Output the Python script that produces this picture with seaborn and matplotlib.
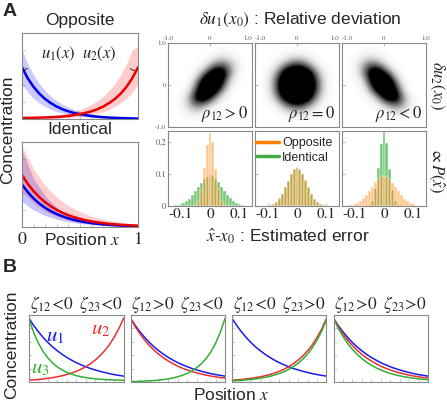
import numpy as np
import matplotlib
matplotlib.use('Agg')
import matplotlib.pyplot as plt
import seaborn as sns

sns.set_style('white')
plt.rcParams['font.family'] = ['Liberation Sans', 'DejaVu Sans']
plt.rcParams['mathtext.fontset'] = 'stix'

# ---------------- data ----------------
x21 = [0.0, 0.05, 0.1, 0.15, 0.2, 0.25, 0.3, 0.35, 0.4, 0.45, 0.5,
       0.55, 0.6, 0.65, 0.7, 0.75, 0.8, 0.85, 0.9, 0.95, 1.0]
x11 = [0.0, 0.1, 0.2, 0.3, 0.4, 0.5, 0.6, 0.7, 0.8, 0.9, 1.0]

# A, "Opposite"
opp_u1 = [0.60, 0.473, 0.373, 0.294, 0.232, 0.183, 0.144, 0.113, 0.089, 0.070, 0.056,
          0.044, 0.034, 0.027, 0.021, 0.017, 0.013, 0.011, 0.008, 0.007, 0.005]
opp_u2 = [0.012, 0.013, 0.014, 0.016, 0.018, 0.021, 0.024, 0.029, 0.036, 0.046, 0.058,
          0.072, 0.090, 0.114, 0.145, 0.184, 0.232, 0.294, 0.373, 0.473, 0.60]
opp_u1_hi = [0.80, 0.640, 0.512, 0.410, 0.329, 0.264, 0.212, 0.170, 0.137, 0.110, 0.089,
             0.071, 0.057, 0.046, 0.037, 0.030, 0.024, 0.019, 0.016, 0.013, 0.010]
opp_u1_lo = [0.40, 0.310, 0.240, 0.186, 0.144, 0.111, 0.086, 0.066, 0.051, 0.039, 0.030,
             0.023, 0.018, 0.014, 0.011, 0.008, 0.006, 0.005, 0.004, 0.003, 0.002]
opp_u2_hi = [0.015, 0.018, 0.021, 0.024, 0.030, 0.037, 0.046, 0.057, 0.071, 0.089, 0.110,
             0.137, 0.170, 0.212, 0.264, 0.329, 0.410, 0.512, 0.640, 0.800, 0.85]
opp_u2_lo = [0.002, 0.003, 0.004, 0.005, 0.006, 0.008, 0.011, 0.014, 0.018, 0.023, 0.030,
             0.039, 0.051, 0.066, 0.086, 0.111, 0.144, 0.186, 0.240, 0.310, 0.40]

# A, "Identical"
idt_u1 = [0.50, 0.410, 0.335, 0.275, 0.225, 0.184, 0.151, 0.124, 0.101, 0.083, 0.068,
          0.056, 0.046, 0.037, 0.031, 0.025, 0.021, 0.017, 0.014, 0.011, 0.009]
idt_u2 = [0.61, 0.507, 0.421, 0.350, 0.291, 0.242, 0.201, 0.167, 0.138, 0.115, 0.096,
          0.079, 0.066, 0.055, 0.046, 0.038, 0.032, 0.026, 0.022, 0.018, 0.015]
idt_u1_hi = [0.90, 0.571, 0.363, 0.230, 0.146, 0.093, 0.059, 0.037, 0.024, 0.015, 0.010]
idt_u1_lo = [0.30, 0.201, 0.135, 0.090, 0.061, 0.041, 0.027, 0.018, 0.012, 0.008, 0.005]
idt_u2_hi = [0.95, 0.681, 0.487, 0.350, 0.251, 0.180, 0.128, 0.092, 0.066, 0.048, 0.034]
idt_u2_lo = [0.42, 0.277, 0.183, 0.120, 0.079, 0.052, 0.034, 0.023, 0.015, 0.010, 0.007]

# scatter clouds: density of points on a 10x10 grid (rows: du2 from -0.9 to 0.9)
cloud_pos = [
    [0, 0, 0, 0, 0, 0, 0, 0, 0, 0],
    [0, 0, 0.05, 0.08, 0, 0, 0, 0, 0, 0],
    [0, 0.03, 0.2, 0.35, 0.2, 0.05, 0, 0, 0, 0],
    [0, 0, 0.25, 0.75, 0.8, 0.35, 0.05, 0, 0, 0],
    [0, 0, 0.05, 0.55, 1.0, 0.9, 0.35, 0.03, 0, 0],
    [0, 0, 0, 0.3, 0.9, 1.0, 0.65, 0.1, 0, 0],
    [0, 0, 0, 0.05, 0.4, 0.8, 0.8, 0.3, 0.03, 0],
    [0, 0, 0, 0, 0.05, 0.3, 0.4, 0.25, 0.05, 0],
    [0, 0, 0, 0, 0, 0.03, 0.1, 0.05, 0, 0],
    [0, 0, 0, 0, 0, 0, 0, 0, 0, 0],
]
cloud_zero = [
    [0, 0, 0, 0, 0, 0, 0, 0, 0, 0],
    [0, 0, 0, 0.03, 0.08, 0.08, 0.03, 0, 0, 0],
    [0, 0, 0.05, 0.25, 0.45, 0.45, 0.25, 0.05, 0, 0],
    [0, 0.02, 0.25, 0.7, 0.95, 0.95, 0.7, 0.25, 0.02, 0],
    [0, 0.05, 0.4, 0.9, 1.0, 1.0, 0.9, 0.4, 0.05, 0],
    [0, 0.05, 0.4, 0.9, 1.0, 1.0, 0.9, 0.4, 0.05, 0],
    [0, 0.02, 0.25, 0.7, 0.95, 0.95, 0.7, 0.25, 0.02, 0],
    [0, 0, 0.05, 0.25, 0.45, 0.45, 0.25, 0.05, 0, 0],
    [0, 0, 0, 0.03, 0.08, 0.08, 0.03, 0, 0, 0],
    [0, 0, 0, 0, 0, 0, 0, 0, 0, 0],
]
cloud_neg = [
    [0, 0, 0, 0, 0, 0, 0, 0, 0, 0],
    [0, 0, 0, 0, 0, 0, 0.08, 0.05, 0, 0],
    [0, 0, 0, 0, 0.05, 0.2, 0.35, 0.2, 0.03, 0],
    [0, 0, 0, 0.05, 0.35, 0.8, 0.75, 0.25, 0, 0],
    [0, 0, 0.03, 0.35, 0.9, 1.0, 0.55, 0.05, 0, 0],
    [0, 0, 0.1, 0.65, 1.0, 0.9, 0.3, 0, 0, 0],
    [0, 0.03, 0.3, 0.8, 0.8, 0.4, 0.05, 0, 0, 0],
    [0, 0.05, 0.25, 0.4, 0.3, 0.05, 0, 0, 0, 0],
    [0, 0, 0.05, 0.1, 0.03, 0, 0, 0, 0, 0],
    [0, 0, 0, 0, 0, 0, 0, 0, 0, 0],
]

# histograms of the estimation error, bin centres -0.12 ... 0.12
err_bins = [-0.12, -0.11, -0.10, -0.09, -0.08, -0.07, -0.06, -0.05, -0.04, -0.03, -0.02, -0.01, 0.0,
            0.01, 0.02, 0.03, 0.04, 0.05, 0.06, 0.07, 0.08, 0.09, 0.10, 0.11, 0.12]
h1_opp = [0, 0, 0, 0, 0, 0, 0.001, 0.004, 0.017, 0.050, 0.120, 0.190, 0.228,
          0.200, 0.115, 0.052, 0.015, 0.004, 0.001, 0, 0, 0, 0, 0, 0]
h1_idt = [0.002, 0.003, 0.006, 0.010, 0.016, 0.023, 0.035, 0.046, 0.061, 0.073, 0.086, 0.091, 0.096,
          0.093, 0.084, 0.075, 0.059, 0.048, 0.033, 0.025, 0.015, 0.009, 0.006, 0.003, 0.001]
h2_opp = [0, 0, 0.001, 0.003, 0.006, 0.013, 0.023, 0.038, 0.058, 0.079, 0.100, 0.115, 0.121,
          0.114, 0.099, 0.080, 0.057, 0.039, 0.022, 0.012, 0.006, 0.003, 0.001, 0, 0]
h2_idt = [0, 0, 0.001, 0.003, 0.007, 0.012, 0.024, 0.037, 0.059, 0.078, 0.101, 0.116, 0.119,
          0.115, 0.100, 0.078, 0.058, 0.037, 0.023, 0.013, 0.006, 0.002, 0.001, 0, 0]
h3_opp = [0.002, 0.003, 0.005, 0.010, 0.015, 0.024, 0.034, 0.047, 0.060, 0.074, 0.085, 0.093, 0.095,
          0.091, 0.085, 0.073, 0.060, 0.046, 0.034, 0.023, 0.016, 0.010, 0.005, 0.003, 0.001]
h3_idt = [0, 0, 0, 0, 0, 0, 0.001, 0.003, 0.016, 0.052, 0.118, 0.193, 0.232,
          0.196, 0.117, 0.049, 0.016, 0.004, 0.001, 0, 0, 0, 0, 0, 0]

# B, three morphogens
b_decay = [0.95, 0.844, 0.749, 0.665, 0.590, 0.523, 0.466, 0.413, 0.367, 0.326, 0.289,
           0.257, 0.228, 0.202, 0.180, 0.160, 0.142, 0.125, 0.111, 0.099, 0.088]
b_decay_mid = [0.95, 0.827, 0.719, 0.626, 0.545, 0.474, 0.413, 0.359, 0.313, 0.273, 0.237,
               0.206, 0.180, 0.156, 0.136, 0.119, 0.103, 0.089, 0.078, 0.067, 0.059]
b_decay_low = [0.95, 0.804, 0.681, 0.577, 0.487, 0.413, 0.350, 0.295, 0.251, 0.212, 0.180,
               0.152, 0.128, 0.109, 0.092, 0.078, 0.066, 0.056, 0.048, 0.040, 0.034]
b_decay_fast = [0.94, 0.737, 0.578, 0.454, 0.359, 0.284, 0.225, 0.180, 0.144, 0.117, 0.095,
                0.079, 0.066, 0.056, 0.048, 0.042, 0.037, 0.033, 0.030, 0.028, 0.026]
b_rise = [0.027, 0.032, 0.038, 0.046, 0.054, 0.066, 0.078, 0.093, 0.111, 0.133, 0.160,
          0.190, 0.228, 0.273, 0.326, 0.390, 0.466, 0.556, 0.665, 0.794, 0.95]
b_rise_low = [0.017, 0.020, 0.025, 0.031, 0.038, 0.047, 0.057, 0.069, 0.085, 0.103, 0.126,
              0.153, 0.188, 0.230, 0.280, 0.342, 0.418, 0.511, 0.623, 0.762, 0.93]
b_rise_steep = [0.006, 0.008, 0.010, 0.013, 0.017, 0.022, 0.029, 0.037, 0.047, 0.061, 0.078,
                0.100, 0.128, 0.165, 0.212, 0.272, 0.350, 0.449, 0.577, 0.740, 0.95]
b_titles = [r'$\zeta_{12}\!<\!0\;\;\zeta_{23}\!<\!0$', r'$\zeta_{12}\!>\!0\;\;\zeta_{23}\!<\!0$',
            r'$\zeta_{12}\!<\!0\;\;\zeta_{23}\!>\!0$', r'$\zeta_{12}\!>\!0\;\;\zeta_{23}\!>\!0$']
b_u1 = [b_decay, b_decay, b_decay, b_decay]
b_u2 = [b_rise, b_decay_mid, b_rise, b_decay_mid]
b_u3 = [b_decay_fast, b_rise_steep, b_rise_low, b_decay_low]

rho_labels = [r'$\rho_{12}>0$', r'$\rho_{12}=0$', r'$\rho_{12}<0$']

# ---------------- figure ----------------
W, H = 447, 405
fig = plt.figure(figsize=(W / 100, H / 100), dpi=100)
BLUE, RED = '#0000e6', '#e60000'
ORANGE, LGREEN = '#ff8c1a', '#2fa82f'
SPINE = '#888888'


def add_ax(x0, y0, x1, y1):
    return fig.add_axes([x0 / W, 1 - y1 / H, (x1 - x0) / W, (y1 - y0) / H])


def gray_box(ax):
    for s in ax.spines.values():
        s.set_color(SPINE)
        s.set_linewidth(0.8)


def small_ticks(ax):
    ax.set_xticks(x11)
    ax.set_yticks([0, 0.2, 0.4, 0.6, 0.8, 1.0])
    ax.tick_params(direction='in', length=2, color='#bbbbbb', width=0.6,
                   labelbottom=False, labelleft=False, bottom=True, left=True)


# ----- A: concentration profiles -----
axo = add_ax(22, 33, 138, 119)
axo.fill_between(x21, opp_u1_lo, opp_u1_hi, color='#4040ff', alpha=0.27, lw=0)
axo.fill_between(x21, opp_u2_lo, opp_u2_hi, color='#ff4040', alpha=0.27, lw=0)
sns.lineplot(x=x21, y=opp_u1, ax=axo, color=BLUE, lw=1.8)
sns.lineplot(x=x21, y=opp_u2, ax=axo, color=RED, lw=1.8)
axo.set_xlim(0, 1)
axo.set_ylim(0, 1)
gray_box(axo)
small_ticks(axo)
axo.annotate(r'$u_1(x)$', xy=(0.02, 0.57), xytext=(0.31, 0.76), textcoords='axes fraction',
             xycoords='axes fraction', ha='center', va='center', fontsize=12,
             arrowprops=dict(arrowstyle='-', color='#222222', lw=0.7, shrinkA=8, shrinkB=0))
axo.annotate(r'$u_2(x)$', xy=(0.97, 0.56), xytext=(0.67, 0.76), textcoords='axes fraction',
             xycoords='axes fraction', ha='center', va='center', fontsize=12,
             arrowprops=dict(arrowstyle='-', color='#222222', lw=0.7, shrinkA=8, shrinkB=0))

axi = add_ax(22, 142, 138, 227)
axi.fill_between(x11, idt_u1_lo, idt_u1_hi, color='#4040ff', alpha=0.3, lw=0)
axi.fill_between(x11, idt_u2_lo, idt_u2_hi, color='#ff4040', alpha=0.25, lw=0)
sns.lineplot(x=x21, y=idt_u1, ax=axi, color=BLUE, lw=1.8)
sns.lineplot(x=x21, y=idt_u2, ax=axi, color=RED, lw=1.8)
axi.set_xlim(0, 1)
axi.set_ylim(0, 1)
gray_box(axi)
small_ticks(axi)
axi.text(0, -0.05, '$0$', transform=axi.transAxes, ha='center', va='top', fontsize=13)
axi.text(1, -0.05, '$1$', transform=axi.transAxes, ha='center', va='top', fontsize=13)

fig.text(80 / W, 1 - 20 / H, 'Opposite', ha='center', va='center', fontsize=12.5)
fig.text(80 / W, 1 - 130 / H, 'Identical', ha='center', va='center', fontsize=12.5)
fig.text(8 / W, 1 - 130 / H, 'Concentration', ha='center', va='center', rotation=90, fontsize=12.5)
fig.text(82 / W, 1 - 240 / H, r'Position $x$', ha='center', va='center', fontsize=12.5)
fig.text(10 / W, 1 - 11 / H, 'A', ha='center', va='center', fontsize=14, fontweight='bold')
fig.text(10 / W, 1 - 268 / H, 'B', ha='center', va='center', fontsize=14, fontweight='bold')

# ----- A: scatter of relative deviations and error histograms -----
clouds = [cloud_pos, cloud_zero, cloud_neg]
hists = [(h1_opp, h1_idt), (h2_opp, h2_idt), (h3_opp, h3_idt)]
x_left = [168, 255, 342]
for i in range(3):
    ax = add_ax(x_left[i], 43, x_left[i] + 84, 127)
    ax.imshow(np.array(clouds[i]), extent=(-1, 1, -1, 1), origin='lower', cmap='Greys',
              vmin=0, vmax=0.6, interpolation='bicubic', aspect='auto')
    ax.set_xlim(-1, 1)
    ax.set_ylim(-1, 1)
    gray_box(ax)
    ax.xaxis.tick_top()
    ax.set_xticks([-1, 0, 1])
    labs = ax.set_xticklabels(['-1.0', '0', '1.0'], fontsize=5, family='STIXGeneral', color='#555555')
    # neighbouring panels share an edge: keep the end labels inside their own panel
    if i > 0:
        labs[0].set_ha('left')
    if i < 2:
        labs[2].set_ha('right')
    ax.set_yticks([-1, 0, 1])
    if i == 0:
        ax.set_yticklabels(['-1.0', '0', '1.0'], fontsize=5, family='STIXGeneral', color='#555555')
    else:
        ax.set_yticklabels([])
    ax.tick_params(direction='in', length=2, color='#bbbbbb', pad=1.5, top=True, left=True)
    ax.text(0.96, 0.04, rho_labels[i], transform=ax.transAxes, ha='right', va='bottom', fontsize=12)

    axh = add_ax(x_left[i], 131, x_left[i] + 84, 206)
    h_opp, h_idt = hists[i]
    sns.histplot(x=err_bins, weights=h_idt, binwidth=0.01, binrange=(-0.125, 0.125),
                 color=LGREEN, alpha=0.65, edgecolor='white', linewidth=0.3, ax=axh)
    sns.histplot(x=err_bins, weights=h_opp, binwidth=0.01, binrange=(-0.125, 0.125),
                 color=ORANGE, alpha=0.5, edgecolor='white', linewidth=0.3, ax=axh)
    axh.set_xlim(-0.145, 0.145)
    axh.set_ylim(0, 0.235)
    axh.set_ylabel('')
    gray_box(axh)
    axh.set_xticks([-0.1, 0, 0.1])
    axh.set_xticklabels(['-0.1', '0', '0.1'], fontsize=11, family='STIXGeneral')
    axh.set_yticks([0, 0.1, 0.2])
    if i == 0:
        axh.set_yticklabels(['0', '0.1', '0.2'], fontsize=6, family='STIXGeneral', color='#555555')
    else:
        axh.set_yticklabels([])
    axh.tick_params(direction='in', length=2, color='#bbbbbb', pad=1.5, bottom=True, left=True)
    if i == 1:
        axh.plot([], [], color='#ff8000', lw=2.5, label='Opposite')
        axh.plot([], [], color='#44aa44', lw=2.5, label='Identical')
        axh.legend(loc='upper right', frameon=False, fontsize=9, handlelength=1.8,
                   handletextpad=0.3, borderaxespad=0.1, labelspacing=0.2)

fig.text(300 / W, 1 - 20 / H, r'$\delta u_1(x_0)$ : Relative deviation', ha='center', va='center',
         fontsize=12.5)
fig.text(288 / W, 1 - 236 / H, r'$\hat{x}$-$x_0$ : Estimated error', ha='center', va='center',
         fontsize=12.5)
fig.text(437 / W, 1 - 85 / H, r'$\delta u_2(x_0)$', ha='center', va='center', rotation=-90, fontsize=12)
fig.text(437 / W, 1 - 170 / H, r'$\propto P(\hat{x})$', ha='center', va='center', rotation=-90,
         fontsize=12)

# ----- B: three-morphogen profiles -----
b_left = [29, 130.5, 232, 333.5]
for j in range(4):
    ax = add_ax(b_left[j], 315, b_left[j] + 94.5, 382)
    sns.lineplot(x=x21, y=b_u1[j], ax=ax, color='#1a1aee', lw=1.1)
    sns.lineplot(x=x21, y=b_u2[j], ax=ax, color='#e83030', lw=1.1)
    sns.lineplot(x=x21, y=b_u3[j], ax=ax, color='#30b030', lw=1.1)
    ax.set_xlim(0, 1)
    ax.set_ylim(0, 1)
    gray_box(ax)
    small_ticks(ax)
    ax.set_title(b_titles[j], fontsize=12.5, pad=3)
    if j == 0:
        ax.text(0.28, 0.68, '$u_1$', color='#1a1aee', transform=ax.transAxes, ha='center',
                va='center', fontsize=15)
        ax.text(0.76, 0.79, '$u_2$', color='#e83030', transform=ax.transAxes, ha='center',
                va='center', fontsize=15)
        ax.text(0.12, 0.2, '$u_3$', color='#30b030', transform=ax.transAxes, ha='center',
                va='center', fontsize=15)

fig.text(12 / W, 1 - 345 / H, 'Concentration', ha='center', va='center', rotation=90, fontsize=12.5)
fig.text(231 / W, 1 - 395 / H, r'Position $x$', ha='center', va='center', fontsize=12.5)

fig.savefig('out.png', dpi=100)
